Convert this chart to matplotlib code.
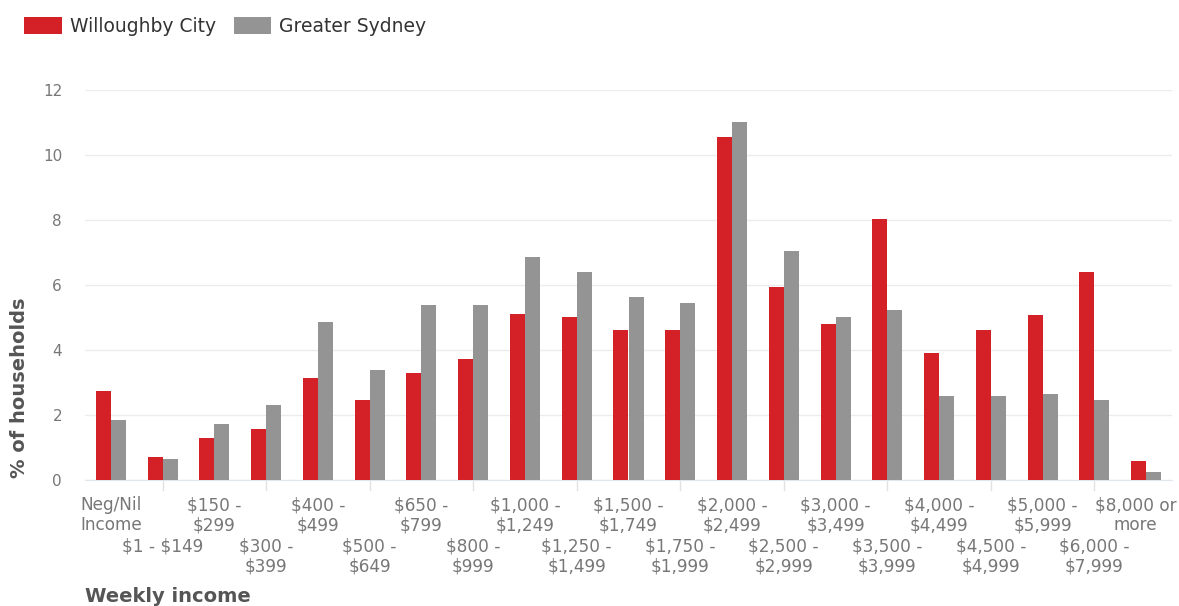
import matplotlib
matplotlib.use("Agg")
import matplotlib.pyplot as plt
import numpy as np

plt.rcParams["text.parse_math"] = False
plt.rcParams["font.family"] = ["DejaVu Sans"]

categories = ["Neg/Nil\nIncome", "$1 - $149", "$150 -\n$299", "$300 -\n$399", "$400 -\n$499",
              "$500 -\n$649", "$650 -\n$799", "$800 -\n$999", "$1,000 -\n$1,249", "$1,250 -\n$1,499",
              "$1,500 -\n$1,749", "$1,750 -\n$1,999", "$2,000 -\n$2,499", "$2,500 -\n$2,999",
              "$3,000 -\n$3,499", "$3,500 -\n$3,999", "$4,000 -\n$4,499", "$4,500 -\n$4,999",
              "$5,000 -\n$5,999", "$6,000 -\n$7,999", "$8,000 or\nmore"]
willoughby = [2.75, 0.72, 1.30, 1.57, 3.15, 2.47, 3.30, 3.73, 5.12, 5.03, 4.63, 4.63,
              10.56, 5.94, 4.79, 8.03, 3.92, 4.63, 5.07, 6.39, 0.59]
sydney = [1.85, 0.65, 1.73, 2.31, 4.85, 3.39, 5.40, 5.37, 6.85, 6.39, 5.62, 5.46,
          11.03, 7.04, 5.03, 5.23, 2.60, 2.60, 2.64, 2.46, 0.26]
series_names = ["Willoughby City", "Greater Sydney"]
yticks = [0, 2, 4, 6, 8, 10, 12]

RED = "#d42027"
GRAY = "#949494"
W, H = 1179, 606
fig = plt.figure(figsize=(W / 100, H / 100), dpi=100)
ax = fig.add_axes([85 / W, 1 - 480 / H, (1172 - 85) / W, (480 - 90) / H])

x = np.arange(len(categories))
bw = 0.29
ax.bar(x - bw / 2, willoughby, bw, color=RED, label=series_names[0], zorder=3)
ax.bar(x + bw / 2, sydney, bw, color=GRAY, label=series_names[1], zorder=3)

ax.set_xlim(-0.5, len(categories) - 0.5)
ax.set_ylim(0, 12)
ax.set_yticks(yticks)
ax.set_yticklabels([str(t) for t in yticks])
ax.yaxis.grid(True, color="#ececec", linewidth=1, zorder=0)
for s in ["top", "right", "left"]:
    ax.spines[s].set_visible(False)
ax.spines["bottom"].set_color("#dfe6ee")
ax.tick_params(axis="y", length=0, labelsize=11, labelcolor="#777777", pad=16.5)

ax.set_xticks(x)
ax.set_xticklabels([])
ax.tick_params(axis="x", length=0)
for i in range(1, len(categories), 2):
    ax.plot([i, i], [0, -0.3], color="#e2e2e2", lw=1, clip_on=False, zorder=1)

n = len(categories)
for i, lab in enumerate(categories):
    y_off = -0.50 if i % 2 == 0 else -1.76
    xpos = i - 0.2 if i == n - 1 else i
    ax.text(xpos, y_off, lab, ha="center", va="top", fontsize=12.2, color="#777777",
            linespacing=1.13)

fig.text(20 / W, 1 - 388 / H, "% of households", rotation=90, ha="center", va="center",
         fontsize=14, fontweight="bold", color="#555555")
fig.text(85 / W, 1 - 597 / H, "Weekly income", ha="left", va="center",
         fontsize=14, fontweight="bold", color="#555555")

leg = fig.legend(loc="upper left", bbox_to_anchor=(24 / W, 1 - 17 / H), ncol=2, frameon=False,
                 fontsize=13.5, handlelength=2.0, handleheight=0.96, columnspacing=0.95,
                 handletextpad=0.43, borderpad=0, borderaxespad=0)
for t in leg.get_texts():
    t.set_color("#333333")

fig.savefig("out.png", dpi=100)
